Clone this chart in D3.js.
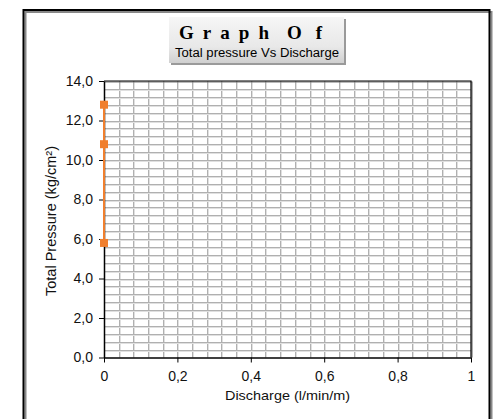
<!DOCTYPE html>
<html>
<head>
<meta charset="utf-8">
<script src="https://cdn.jsdelivr.net/npm/d3@7"></script>
<style>
  html, body { margin: 0; padding: 0; background: #fff; }
  svg { display: block; }
</style>
</head>
<body>
<svg id="chart" width="493" height="419"></svg>
<script>
// Measured points: discharge (l/min/m) and total pressure (kg/cm²)
const discharge = [0, 0, 0];
const totalPressure = [12.8, 10.8, 5.8];

const xTickValues = [0, 0.2, 0.4, 0.6, 0.8, 1];
const yTickValues = [0, 2, 4, 6, 8, 10, 12, 14];
const titleWords = ["Graph", "Of"];
const titleSub = "Total pressure Vs Discharge";
const xTitle = "Discharge (l/min/m)";
const yTitle = "Total Pressure (kg/cm²)";

const svg = d3.select("#chart");
const W = 493, H = 419;
const sans = "Liberation Sans, Arial, sans-serif";

const plot = { left: 104, right: 471, top: 81, bottom: 357.5 };

const x = d3.scaleLinear().domain([0, 1]).range([plot.left, plot.right]);
const y = d3.scaleLinear().domain([0, 14]).range([plot.bottom, plot.top]);

const defs = svg.append("defs");
const grad = defs.append("linearGradient").attr("id", "titleFill")
  .attr("x1", 0).attr("y1", 0).attr("x2", 0).attr("y2", 1);
grad.append("stop").attr("offset", "0%").attr("stop-color", "#f6f6f6");
grad.append("stop").attr("offset", "65%").attr("stop-color", "#e8e8e8");
grad.append("stop").attr("offset", "100%").attr("stop-color", "#d0d0d0");

// Outer chart frame (open at the bottom edge of the view)
svg.append("path")
  .attr("d", `M24.5,${H + 5} V11 H490.5 V${H + 5}`)
  .attr("fill", "none").attr("stroke", "#888").attr("stroke-width", 2)
  .attr("transform", "translate(1,1)");
svg.append("path")
  .attr("d", `M23.5,${H + 5} V10 H489.5 V${H + 5}`)
  .attr("fill", "none").attr("stroke", "#000").attr("stroke-width", 2);

// Title box with shadow
svg.append("rect").attr("x", 171).attr("y", 19).attr("width", 175).attr("height", 46)
  .attr("fill", "#9a9a9a");
svg.append("rect").attr("x", 169).attr("y", 17).attr("width", 175).attr("height", 46)
  .attr("fill", "url(#titleFill)");

// Letter-spaced heading, one text run per word
const wordLayout = [{ x: 179, len: 90 }, { x: 287, len: 35 }];
svg.selectAll(".titleWord").data(titleWords).join("text")
  .attr("class", "titleWord")
  .attr("x", (d, i) => wordLayout[i].x).attr("y", 39)
  .attr("font-family", "Liberation Serif, Times New Roman, serif")
  .attr("font-weight", "bold").attr("font-size", 19)
  .attr("textLength", (d, i) => wordLayout[i].len).attr("lengthAdjust", "spacing")
  .attr("fill", "#000")
  .text(d => d);
svg.append("text")
  .attr("x", 175).attr("y", 57)
  .attr("font-family", sans)
  .attr("font-size", 12.5)
  .attr("textLength", 164).attr("lengthAdjust", "spacingAndGlyphs")
  .attr("fill", "#000")
  .text(titleSub);

// Grid: minor steps of 0.04 on x and 0.4 on y
const gx = d3.range(1, 25).map(i => i * 0.04);
const gy = d3.range(1, 35).map(i => i * 0.4);
const grid = svg.append("g");
grid.selectAll(".vx2").data(gx).join("line")
  .attr("x1", d => Math.round(x(d)) + 1.5).attr("x2", d => Math.round(x(d)) + 1.5)
  .attr("y1", plot.top).attr("y2", plot.bottom)
  .attr("stroke", "#e0e0e0").attr("stroke-width", 1);
grid.selectAll(".vx").data(gx).join("line")
  .attr("x1", d => Math.round(x(d)) + 0.5).attr("x2", d => Math.round(x(d)) + 0.5)
  .attr("y1", plot.top).attr("y2", plot.bottom)
  .attr("stroke", "#b0b0b0").attr("stroke-width", 1);
grid.selectAll(".hy2").data(gy).join("line")
  .attr("y1", d => Math.round(y(d)) + 1.5).attr("y2", d => Math.round(y(d)) + 1.5)
  .attr("x1", plot.left).attr("x2", plot.right)
  .attr("stroke", "#e0e0e0").attr("stroke-width", 1);
grid.selectAll(".hy").data(gy).join("line")
  .attr("y1", d => Math.round(y(d)) + 0.5).attr("y2", d => Math.round(y(d)) + 0.5)
  .attr("x1", plot.left).attr("x2", plot.right)
  .attr("stroke", "#b0b0b0").attr("stroke-width", 1);

// Plot frame: top and right edges with shadow
svg.append("path")
  .attr("d", `M${plot.left},${plot.top + 1} H${plot.right + 1} V${plot.bottom}`)
  .attr("fill", "none").attr("stroke", "#777").attr("stroke-width", 1.2);
svg.append("path")
  .attr("d", `M${plot.left},${plot.top} H${plot.right} V${plot.bottom}`)
  .attr("fill", "none").attr("stroke", "#000").attr("stroke-width", 1.2);

const fmtX = d => (d === 0 || d === 1) ? String(d) : d3.format(".1f")(d).replace(".", ",");
const fmtY = d => d3.format(".1f")(d).replace(".", ",");

// Axes
const xAxis = svg.append("g")
  .attr("transform", `translate(0,${plot.bottom})`)
  .call(d3.axisBottom(x).tickValues(xTickValues).tickFormat(fmtX).tickSize(5).tickSizeOuter(0));
const yAxis = svg.append("g")
  .attr("transform", `translate(${plot.left},0)`)
  .call(d3.axisLeft(y).tickValues(yTickValues).tickFormat(fmtY).tickSize(5).tickSizeOuter(0));

[xAxis, yAxis].forEach(a => {
  a.select(".domain").attr("stroke", "#000").attr("stroke-width", 1.5);
  a.selectAll(".tick line").attr("stroke", "#000");
  a.selectAll(".tick text")
    .attr("font-family", sans)
    .attr("font-size", 14).attr("fill", "#111");
});
xAxis.selectAll(".tick text").attr("y", 13.5).attr("dy", "0.71em");
yAxis.selectAll(".tick text").attr("x", -11);

// Axis titles
svg.append("text")
  .attr("x", 225).attr("y", 400)
  .attr("font-family", sans)
  .attr("font-size", 13.5).attr("fill", "#111")
  .attr("textLength", 125).attr("lengthAdjust", "spacingAndGlyphs")
  .text(xTitle);
svg.append("text")
  .attr("transform", "translate(56,296) rotate(-90)")
  .attr("font-family", sans)
  .attr("font-size", 14).attr("fill", "#111")
  .attr("textLength", 150).attr("lengthAdjust", "spacingAndGlyphs")
  .text(yTitle);

// Series
const pts = discharge.map((d, i) => ({ x: d, y: totalPressure[i] }));
const orange = "#f07f2e";
svg.append("path")
  .datum(pts)
  .attr("d", d3.line().x(d => x(d.x)).y(d => y(d.y)))
  .attr("fill", "none").attr("stroke", orange).attr("stroke-width", 2);
svg.selectAll(".pt").data(pts).join("rect")
  .attr("x", d => x(d.x) - 4).attr("y", d => y(d.y) - 4)
  .attr("width", 8).attr("height", 8)
  .attr("fill", orange);
</script>
</body>
</html>
